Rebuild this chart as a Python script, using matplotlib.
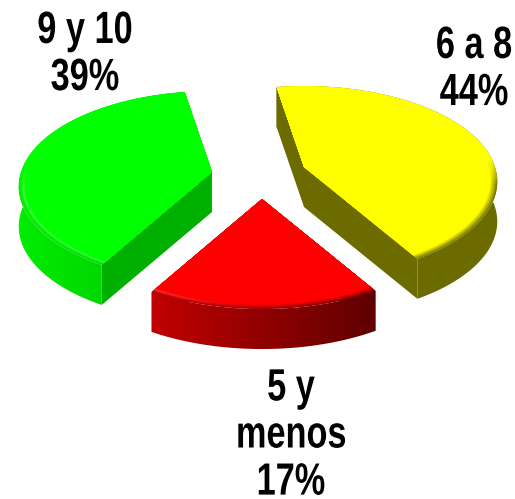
import matplotlib
matplotlib.use('Agg')

import matplotlib.pyplot as plt
import matplotlib.patheffects as pe
from matplotlib.patches import Polygon
from matplotlib.transforms import Affine2D
import numpy as np

# data
categories = ['6 a 8', '5 y\nmenos', '9 y 10']
values = [44, 17, 39]
base_colors = [(1, 1, 0), (1, 0, 0), (0, 1, 0)]

# look of the pie, in pixels
start_angle = 99.5
apexes = [(304, 167), (262, 199), (212, 172)]
label_pos = [(474, 70), (291, 436), (85, 55)]
A, B, P = 191.0, 93.3, 0.152   # ellipse axes and perspective
DEPTH = 40
wall_shade = [(0.42, 0.42), (0.76, 0.37), (0.93, 0.76)]   # left, right
cut_shade = [0.42, 0.42, 0.69]

plt.rcParams['font.family'] = ['Liberation Sans']

fig = plt.figure(figsize=(5.15, 4.99), dpi=100)
ax = fig.add_axes([0, 0, 1, 1])
ax.set_xlim(0, 515)
ax.set_ylim(499, 0)
ax.axis('off')


class Narrow(pe.AbstractPathEffect):
    # squeeze glyphs around the label centre, there is no narrow font here
    def __init__(self, cx, sx):
        super().__init__()
        self.cx = cx
        self.sx = sx

    def draw_path(self, renderer, gc, tpath, affine, rgbFace=None):
        squeeze = Affine2D().translate(-self.cx, 0).scale(self.sx, 1).translate(self.cx, 0)
        renderer.draw_path(gc, tpath, affine + squeeze, rgbFace)


def project(t, r=1.0):
    w = 1 + P * r * np.sin(t)
    return A * r * np.cos(t) / w, -B * r * np.sin(t) / w


def shaded_fill(pts, rgb, zorder):
    # gradient image clipped to a polygon, smoother than many thin quads
    poly = Polygon(pts, closed=True, fc='none', ec='none', transform=ax.transData)
    ax.add_patch(poly)
    im = ax.imshow(rgb, extent=(0, 515, 499, 0), aspect='auto', interpolation='bilinear', zorder=zorder)
    im.set_clip_path(poly)


def draw_slice(t0, t1, apex, color, wall, cut):
    color = np.array(color, dtype=float)
    ts = np.linspace(t0, t1, 200)
    x, y = project(ts)
    x, y = x + apex[0], y + apex[1]

    # cut faces
    for xe, ye in [(x[0], y[0]), (x[-1], y[-1])]:
        pts = [apex, (xe, ye), (xe, ye + DEPTH), (apex[0], apex[1] + DEPTH)]
        ax.add_patch(Polygon(pts, closed=True, fc=color * cut, ec='none', zorder=2))

    # pixel grid for the gradients
    gx, gy = np.meshgrid(np.arange(515) + 0.5, np.arange(499) + 0.5)
    frac = np.clip((gx - x.min()) / max(x.max() - x.min(), 1), 0, 1)
    shade = wall[0] + (wall[1] - wall[0]) * frac

    # outer wall, shaded from left to right
    wall_pts = list(zip(x, y)) + list(zip(x[::-1], y[::-1] + DEPTH))
    shaded_fill(wall_pts, color[None, None, :] * shade[:, :, None], 3)

    # soft rim, painted from the outside in, only on the side facing the viewer
    front = np.clip((gy - apex[1]) / 25 + 0.3, 0, 1)
    steps = np.linspace(1, 0, 9)
    for n, f in enumerate(steps):
        r = 0.965 + 0.035 * f
        xr, yr = project(ts, r)
        pts = [apex] + list(zip(xr + apex[0], yr + apex[1]))
        dark = (f * front * 0.9)[:, :, None]
        c = color[None, None, :] * (1 - dark) + color[None, None, :] * shade[:, :, None] * dark
        lit = (max(0.0, 1 - abs(f - 0.4) / 0.35) * front * np.clip(shade - 0.6, 0, 0.15) * 1.5)[:, :, None]
        c = c + (1 - c) * lit
        shaded_fill(pts, np.clip(c, 0, 1), 4 + n * 0.01)


angle = np.radians(start_angle)
for val, col, apex, wall, cut in zip(values, base_colors, apexes, wall_shade, cut_shade):
    sweep = np.radians(val / sum(values) * 360)
    draw_slice(angle, angle - sweep, apex, col, wall, cut)
    angle -= sweep
ax.set_xlim(0, 515)
ax.set_ylim(499, 0)

for cat, val, pos in zip(categories, values, label_pos):
    cx = ax.transData.transform(pos)[0]
    ax.text(pos[0], pos[1], f'{cat}\n{val}%', ha='center', va='center', fontsize=32.5,
            fontweight='bold', color='black', linespacing=1.19, zorder=6,
            path_effects=[Narrow(cx, 0.76)])

plt.savefig('out.png', dpi=100)
